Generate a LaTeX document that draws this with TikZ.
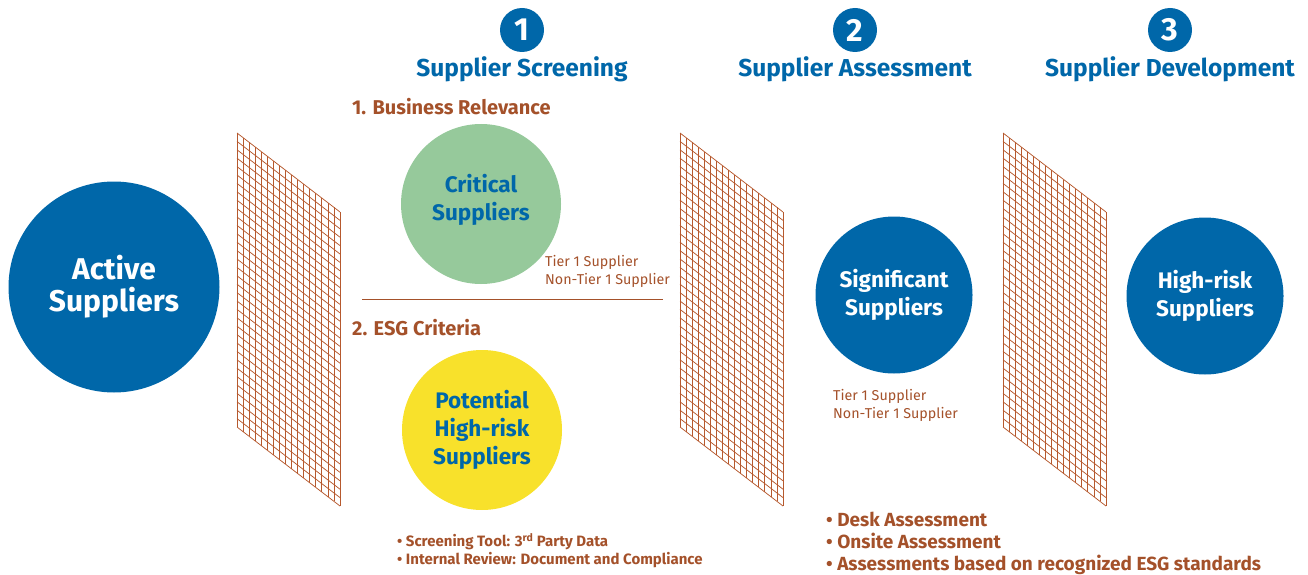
\documentclass[tikz,border=0pt]{standalone}
\usepackage{fontspec}
\setmainfont{Fira Sans}
\usepackage{xcolor}
\usepackage{tikz}
\usetikzlibrary{positioning,calc}
\definecolor{corpblue}{HTML}{0067A9}
\definecolor{leafgreen}{HTML}{96C99B}
\definecolor{sunyellow}{HTML}{F8E12B}
\definecolor{rustbrown}{HTML}{A4512A}
\definecolor{meshorange}{HTML}{B6592E}

\begin{document}
\begin{tikzpicture}[x=1pt,y=-1pt,
  bigdisc/.style={circle,fill=corpblue,minimum size=#1,inner sep=0pt,align=center,text=white,font=\fontsize{22.5}{28}\selectfont\bfseries},
  numdisc/.style={circle,fill=corpblue,minimum size=44pt,inner sep=0pt,text=white,font=\fontsize{32}{32}\selectfont\bfseries},
  stagetitle/.style={text=corpblue,font=\fontsize{24.5}{26}\selectfont\bfseries,inner sep=0pt},
  criterion/.style={text=rustbrown,font=\fontsize{20}{22}\selectfont\bfseries,inner sep=0pt,anchor=west},
  tiernote/.style={text=rustbrown,font=\fontsize{14.3}{18}\selectfont,align=left,inner sep=0pt,anchor=north west},
  bullets/.style={text=rustbrown,align=left,inner sep=0pt,anchor=north west},
  mesh/.style={meshorange,line width=0.75pt}
]
\useasboundingbox (0,0) rectangle (1308,575);

% mesh panels
\foreach \px in {237,680,1003}{
  \foreach \i in {0,...,17}
    \draw[mesh] (\px+\i*6.06,133+\i*4.65) -- (\px+\i*6.06,427+\i*4.65);
  \foreach \j in {0,...,35}
    \draw[mesh] (\px,133+\j*8.4) -- (\px+103,212+\j*8.4);
}

% stage headers
\node[numdisc] (n1) at (522,30) {1};
\node[numdisc] (n2) at (855,30) {2};
\node[numdisc] (n3) at (1170,30) {3};
\node[stagetitle] (screening) at (522,69) {Supplier Screening};
\node[stagetitle] (assessment) at (855,69) {Supplier Assessment};
\node[stagetitle] (development) at (1170,69) {Supplier Development};

% supplier circles
\node[bigdisc=211pt,font=\fontsize{30}{32}\selectfont\bfseries] (active) at (114,287) {Active\\Suppliers};
\node[bigdisc=160pt,fill=leafgreen,text=corpblue] (critical) at (481,204) {Critical\\Suppliers\\[-14pt]};
\node[bigdisc=160pt,fill=sunyellow,text=corpblue] (potential) at (482,430) {Potential\\High-risk\\Suppliers};
\node[bigdisc=157pt] (significant) at (894,295) {Significant\\Suppliers};
\node[bigdisc=157pt] (highrisk) at (1205,296) {High-risk\\Suppliers};

% screening criteria
\node[criterion] (relevance) at (352,107) {1. Business Relevance};
\node[criterion] (esg) at (352,328) {2. ESG Criteria};
\coordinate (divl) at (362,299);
\coordinate (divr) at (663,299);
\draw[rustbrown,line width=0.6pt] (divl) -- (divr);

\node[tiernote] (tiers1) at (545,255) {Tier 1 Supplier\\Non-Tier 1 Supplier};
\node[tiernote] (tiers2) at (833,389) {Tier 1 Supplier\\Non-Tier 1 Supplier};

\node[bullets,font=\fontsize{15}{18.5}\selectfont\bfseries] (tools) at (397,533)
  {• Screening Tool: 3\textsuperscript{rd} Party Data\\• Internal Review: Document and Compliance};
\node[bullets,font=\fontsize{19}{22}\selectfont\bfseries] (methods) at (826,512)
  {• Desk Assessment\\• Onsite Assessment\\• Assessments based on recognized ESG standards};
\end{tikzpicture}
\end{document}
